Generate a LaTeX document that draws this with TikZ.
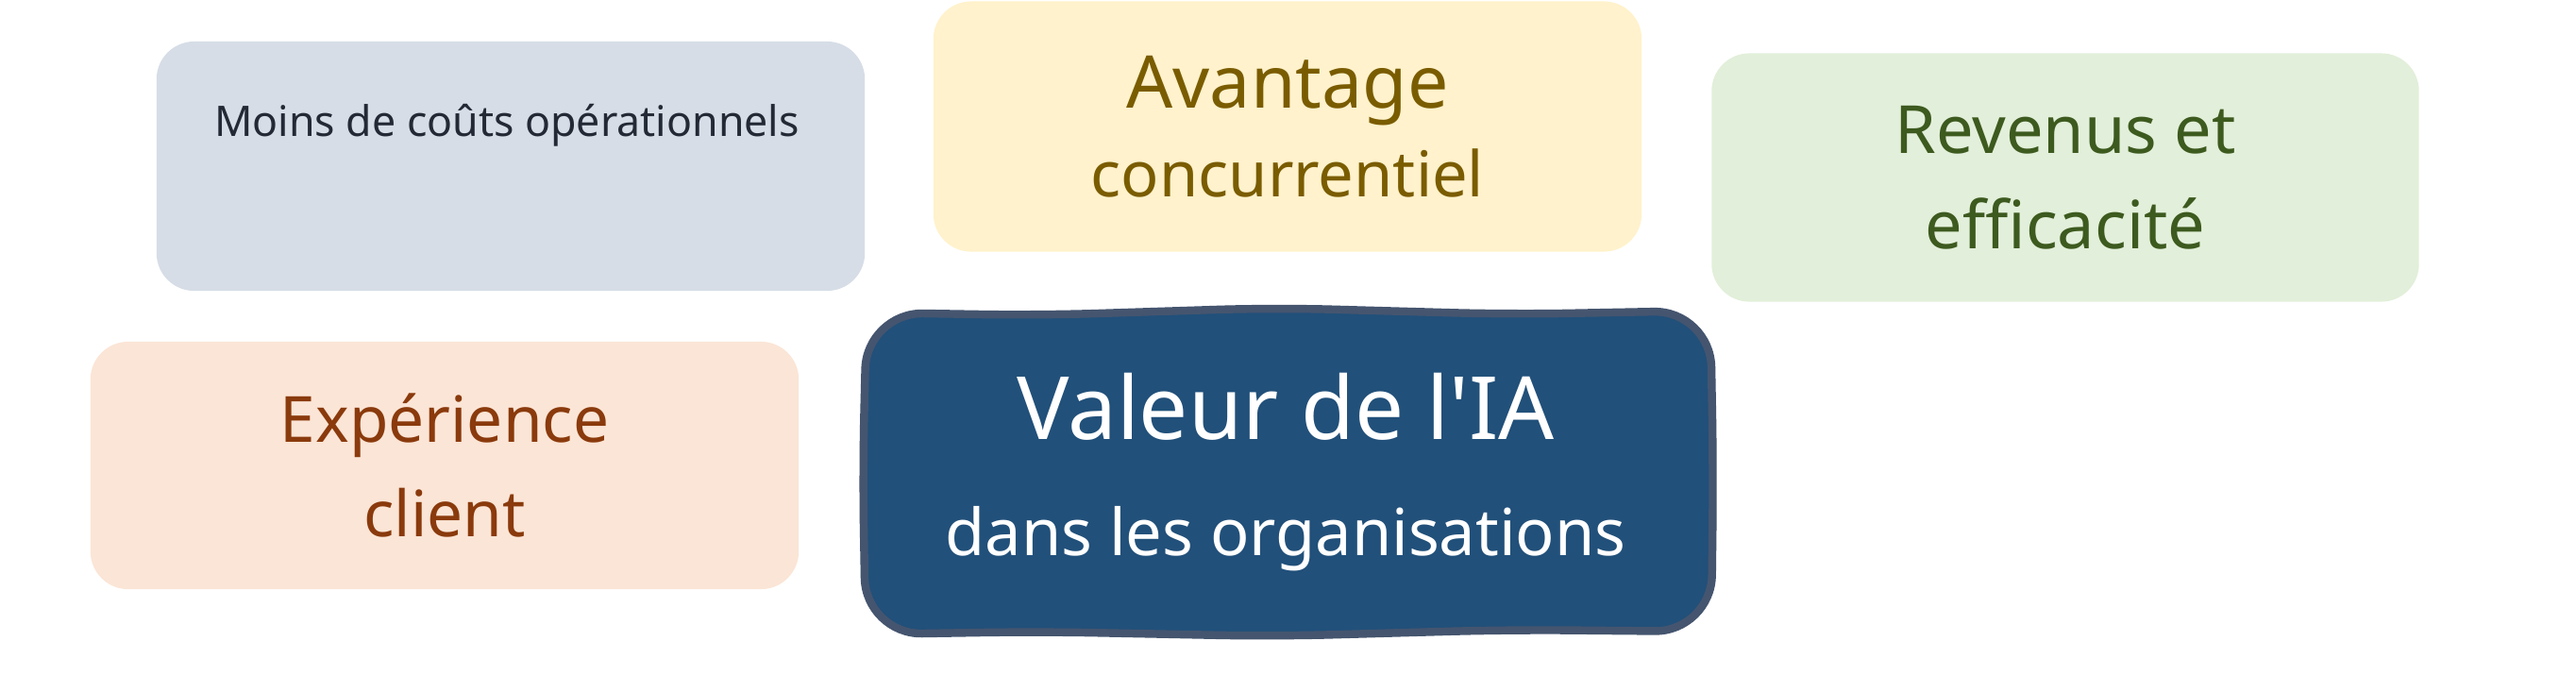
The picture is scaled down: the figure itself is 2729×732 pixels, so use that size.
\documentclass[tikz,border=0pt]{standalone}
\usepackage{fontspec}
\setmainfont{Noto Sans}[Ligatures=TeXOff]
\usepackage{tikz}
\usetikzlibrary{positioning}
\definecolor{costfill}{HTML}{D6DDE6}
\definecolor{costtext}{HTML}{232A36}
\definecolor{edgefill}{HTML}{FFF2CC}
\definecolor{edgetext}{HTML}{7A5C00}
\definecolor{revfill}{HTML}{E2EFDA}
\definecolor{revtext}{HTML}{3D5A1F}
\definecolor{custfill}{HTML}{FBE5D6}
\definecolor{custtext}{HTML}{8A3A0C}
\definecolor{corefill}{HTML}{21507A}
\definecolor{coreline}{HTML}{45556F}
\tikzset{
    value map/.style={
            x=0.01cm,y=-0.01cm,
            card/.style={rounded corners=0.4cm,inner sep=0pt,align=center},
            core/.style={inner sep=0pt,align=center,text=white},
            core edge/.style={draw=coreline,line width=2.4pt,fill=corefill,rounded corners=0.6cm}
        }
    }

\begin{document}
\begin{tikzpicture}[value map]
    \useasboundingbox (0,0) rectangle (2729,732);
    \node (cost) [card,fill=costfill,minimum width=7.5cm,minimum height=2.64cm] at (541,176) {};
    \node (costlabel) [text=costtext,font=\fontsize{12.7}{15}\selectfont] at (537,133) {Moins de coûts opérationnels};
    \node (edge) [card,fill=edgefill,text=edgetext,minimum width=7.5cm,minimum height=2.65cm,
        font=\fontsize{19}{26.7}\selectfont] at (1364,134)
        {{\fontsize{21.9}{26.7}\selectfont Avantage}\\concurrentiel};
    \node (rev) [card,fill=revfill,text=revtext,minimum width=7.49cm,minimum height=2.63cm,
        font=\fontsize{20}{28.7}\selectfont] at (2188,188) {Revenus et\\efficacité};
    \node (cust) [card,fill=custfill,text=custtext,minimum width=7.5cm,minimum height=2.62cm,
        font=\fontsize{19.2}{28.5}\selectfont] at (471,493) {Expérience\\client};
    % hand-drawn frame of the centre card
    \draw [core edge] (1100,334) -- (1350,326) -- (1600,333) -- (1812,329) -- (1815,500)
        -- (1813,669) -- (1600,667) -- (1350,674) -- (1100,669) -- (917,672) -- (914,500)
        -- (918,331) -- cycle;
    \node (core) [core,font=\fontsize{19.5}{35}\selectfont] at (1362,500)
        {{\fontsize{26.3}{35}\selectfont Valeur de l'IA}\\dans les organisations};
\end{tikzpicture}
\end{document}
